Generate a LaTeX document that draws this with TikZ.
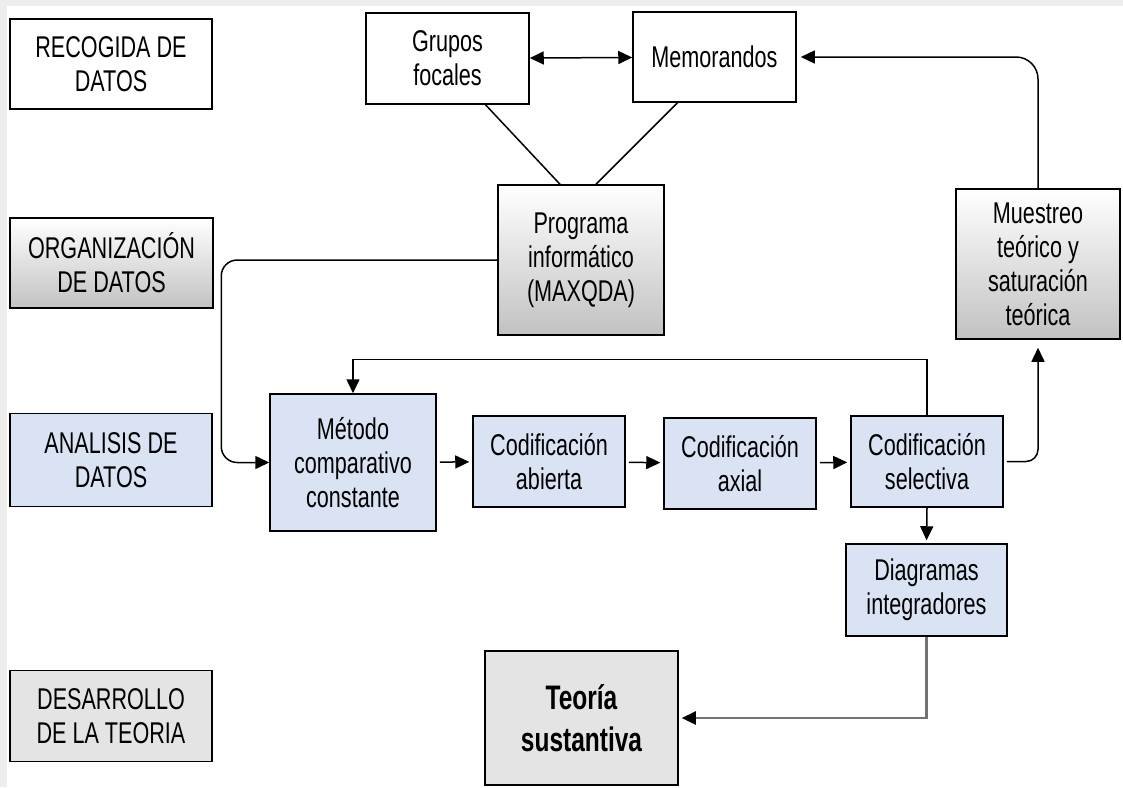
\documentclass[tikz,border=0pt]{standalone}
\usepackage{fontspec}
\setmainfont{Liberation Sans}[FakeStretch=0.72]
\usetikzlibrary{arrows.meta}
\definecolor{stageblue}{HTML}{DAE3F3}
\definecolor{stagegray}{HTML}{E4E4E4}

\begin{document}
\begin{tikzpicture}[x=1pt,y=-1pt,box/.style={draw,line width=1.5pt,align=center,inner sep=0pt,font=\fontsize{30}{34}\selectfont},plain/.style={box,fill=white},shaded/.style={box,top color=white,bottom color=black!24},analysis/.style={box,fill=stageblue},theory/.style={box,fill=stagegray},link/.style={line width=1.5pt},flow/.style={link,-{Triangle[length=14pt,width=13pt]}}]
\useasboundingbox (0,0) rectangle (1123,787);
\fill[black!7] (0,0) rectangle (1123,6);
\fill[black!7] (0,0) rectangle (7,787);
% stages
\node[plain,minimum width=202pt,minimum height=90pt] (recog) at (111,64) {RECOGIDA DE\\DATOS};
\node[shaded,minimum width=203pt,minimum height=90pt] (organiz) at (111.5,263) {ORGANIZACIÓN\\DE DATOS};
\node[analysis,minimum width=202pt,minimum height=93pt] (analisis) at (111,460) {ANALISIS DE\\DATOS};
\node[theory,minimum width=202pt,minimum height=91pt] (desarrollo) at (111,716) {DESARROLLO\\DE LA TEORIA};
% process
\node[plain,minimum width=163pt,minimum height=91pt] (grupos) at (447.5,58.5) {Grupos\\focales};
\node[plain,minimum width=163pt,minimum height=90pt] (memo) at (714.5,57) {Memorandos};
\node[shaded,minimum width=166pt,minimum height=150pt] (programa) at (581,260) {Programa\\informático\\(MAXQDA)};
\node[shaded,minimum width=164pt,minimum height=150pt] (muestreo) at (1038,264) {Muestreo\\teórico y\\saturación\\teórica};
\node[analysis,minimum width=166pt,minimum height=137pt] (metodo) at (353,462.5) {Método\\comparativo\\constante};
\node[analysis,minimum width=152pt,minimum height=91pt] (abierta) at (549,461.5) {Codificación\\abierta};
\node[analysis,minimum width=152pt,minimum height=91pt] (axial) at (740,463.5) {Codificación\\axial};
\node[analysis,minimum width=152pt,minimum height=91pt] (selectiva) at (927,461.5) {Codificación\\selectiva};
\node[analysis,minimum width=161pt,minimum height=92pt] (diagramas) at (926.5,590) {Diagramas\\integradores};
\node[theory,minimum width=193pt,minimum height=134pt,font=\fontsize{34}{42}\selectfont\bfseries] (teoria) at (581.5,718) {Teoría\\sustantiva};
% connectors
\draw[link,{Triangle[length=14pt,width=13pt]}-{Triangle[length=14pt,width=13pt]}] (grupos) -- (memo);
\draw[link] ([xshift=38pt]grupos.south) -- ([xshift=-21pt]programa.north);
\draw[link] ([xshift=-37pt]memo.south) -- ([xshift=15pt]programa.north);
\draw[flow,rounded corners=16pt] (programa.west) -| ([xshift=-48pt]metodo.west) -- (metodo.west);
\draw[flow,shorten <=3pt,shorten >=3pt] (metodo) -- (abierta);
\draw[flow,shorten <=3pt,shorten >=3pt] (abierta) -- (axial);
\draw[flow,shorten <=3pt,shorten >=3pt] (axial) -- (selectiva);
\draw[flow] (selectiva.north) -- ++(0,-56) -| (metodo.north);
\draw[flow,rounded corners=12pt] ([xshift=3pt]selectiva.east) -| ([yshift=-8pt]muestreo.south);
\draw[flow,rounded corners=22pt] (muestreo.north) |- ([xshift=4pt]memo.east);
\draw[flow,shorten >=3pt] (selectiva.south) -- (diagramas.north);
\draw[line width=2.4pt,draw=black!55,-{Triangle[length=14pt,width=13pt,color=black]}] (diagramas.south) |- ([xshift=3pt]teoria.east);
\end{tikzpicture}
\end{document}
